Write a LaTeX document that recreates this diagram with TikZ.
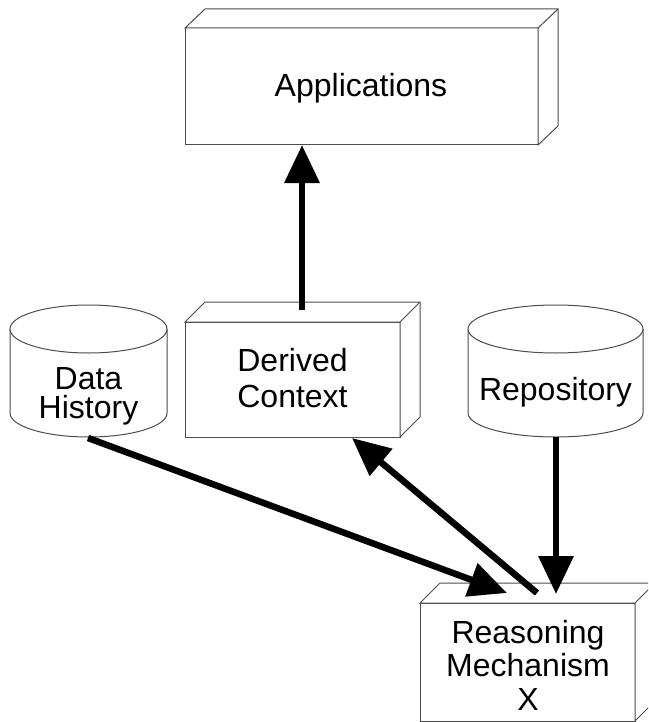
\documentclass[tikz,border=0pt]{standalone}
\usepackage{fontspec}
\setmainfont{Liberation Sans}
\usetikzlibrary{arrows.meta,calc}
\begin{document}
\begin{tikzpicture}[x=1pt,y=-1pt,
  edge/.style={draw=black!70, line width=1pt},
  face/.style={edge, fill=white, inner sep=0pt, outer sep=0pt},
  lbl/.style={inner sep=0pt, align=center, font=\fontsize{32}{#1}\selectfont},
  lbl/.default=36,
  flow/.style={line width=6.5pt, -{Triangle[length=38pt,width=34pt]}}
]
\useasboundingbox (0,0) rectangle (648,722);
\clip (0,0) rectangle (648,722);

% ---- Applications block ----
\node[face, minimum width=353pt, minimum height=117pt] (app) at (361.5,86.5) {};
\draw[edge, fill=white] (app.north west) -- ++(20,-19) -- ($(app.north east)+(20,-19)$)
  -- ($(app.south east)+(20,-19)$) -- (app.south east) -- (app.north east) -- cycle;
\draw[edge] (app.north east) -- ++(20,-19);
\node[lbl] (appT) at (361,88) {Applications};

% ---- Derived Context block ----
\node[face, minimum width=215pt, minimum height=115pt] (dc) at (292.5,379.5) {};
\draw[edge, fill=white] (dc.north west) -- ++(20,-20) -- ($(dc.north east)+(20,-20)$)
  -- ($(dc.south east)+(20,-20)$) -- (dc.south east) -- (dc.north east) -- cycle;
\draw[edge] (dc.north east) -- ++(20,-20);
\node[lbl] (dcT) at (292.5,378.5) {Derived\\Context};

% ---- Reasoning Mechanism block ----
\node[face, minimum width=215pt, minimum height=118pt] (rm) at (527.5,662) {};
\draw[edge, fill=white] (rm.north west) -- ++(20,-20) -- ($(rm.north east)+(20,-20)$)
  -- ($(rm.south east)+(20,-20)$) -- (rm.south east) -- (rm.north east) -- cycle;
\draw[edge] (rm.north east) -- ++(20,-20);
\node[lbl=33.5] (rmT) at (528,665) {Reasoning\\Mechanism\\X};

% ---- Data History store ----
\draw[edge, fill=white] (10,329) -- (10,413) arc[start angle=180, end angle=0, x radius=78.5, y radius=24] -- (167,329);
\draw[edge, fill=white] (88.5,329) ellipse [x radius=78.5, y radius=24];
\node[lbl=29] (dhT) at (88.5,396) {Data\\History};

% ---- Repository store ----
\draw[edge, fill=white] (468,329) -- (468,413) arc[start angle=180, end angle=0, x radius=87.5, y radius=24] -- (643,329);
\draw[edge, fill=white] (555.5,329) ellipse [x radius=87.5, y radius=24];
\node[lbl] (repT) at (555.5,392) {Repository};

% ---- connector end points ----
\coordinate (dcTop) at (302,310);
\coordinate (dhBot) at (88,438);
\coordinate (repBot) at (556,437);
\coordinate (rmIn) at (507,593);
\coordinate (rmOut) at (537,593);
\coordinate (rmTop) at (556,594);
\coordinate (dcIn) at (352,438);

% ---- flows ----
\draw[flow] (dcTop) -- (dcTop |- app.south);
\draw[flow] (dhBot) -- (rmIn);
\draw[flow] (rmOut) -- (dcIn);
\draw[flow] (repBot) -- (rmTop);
\end{tikzpicture}
\end{document}
